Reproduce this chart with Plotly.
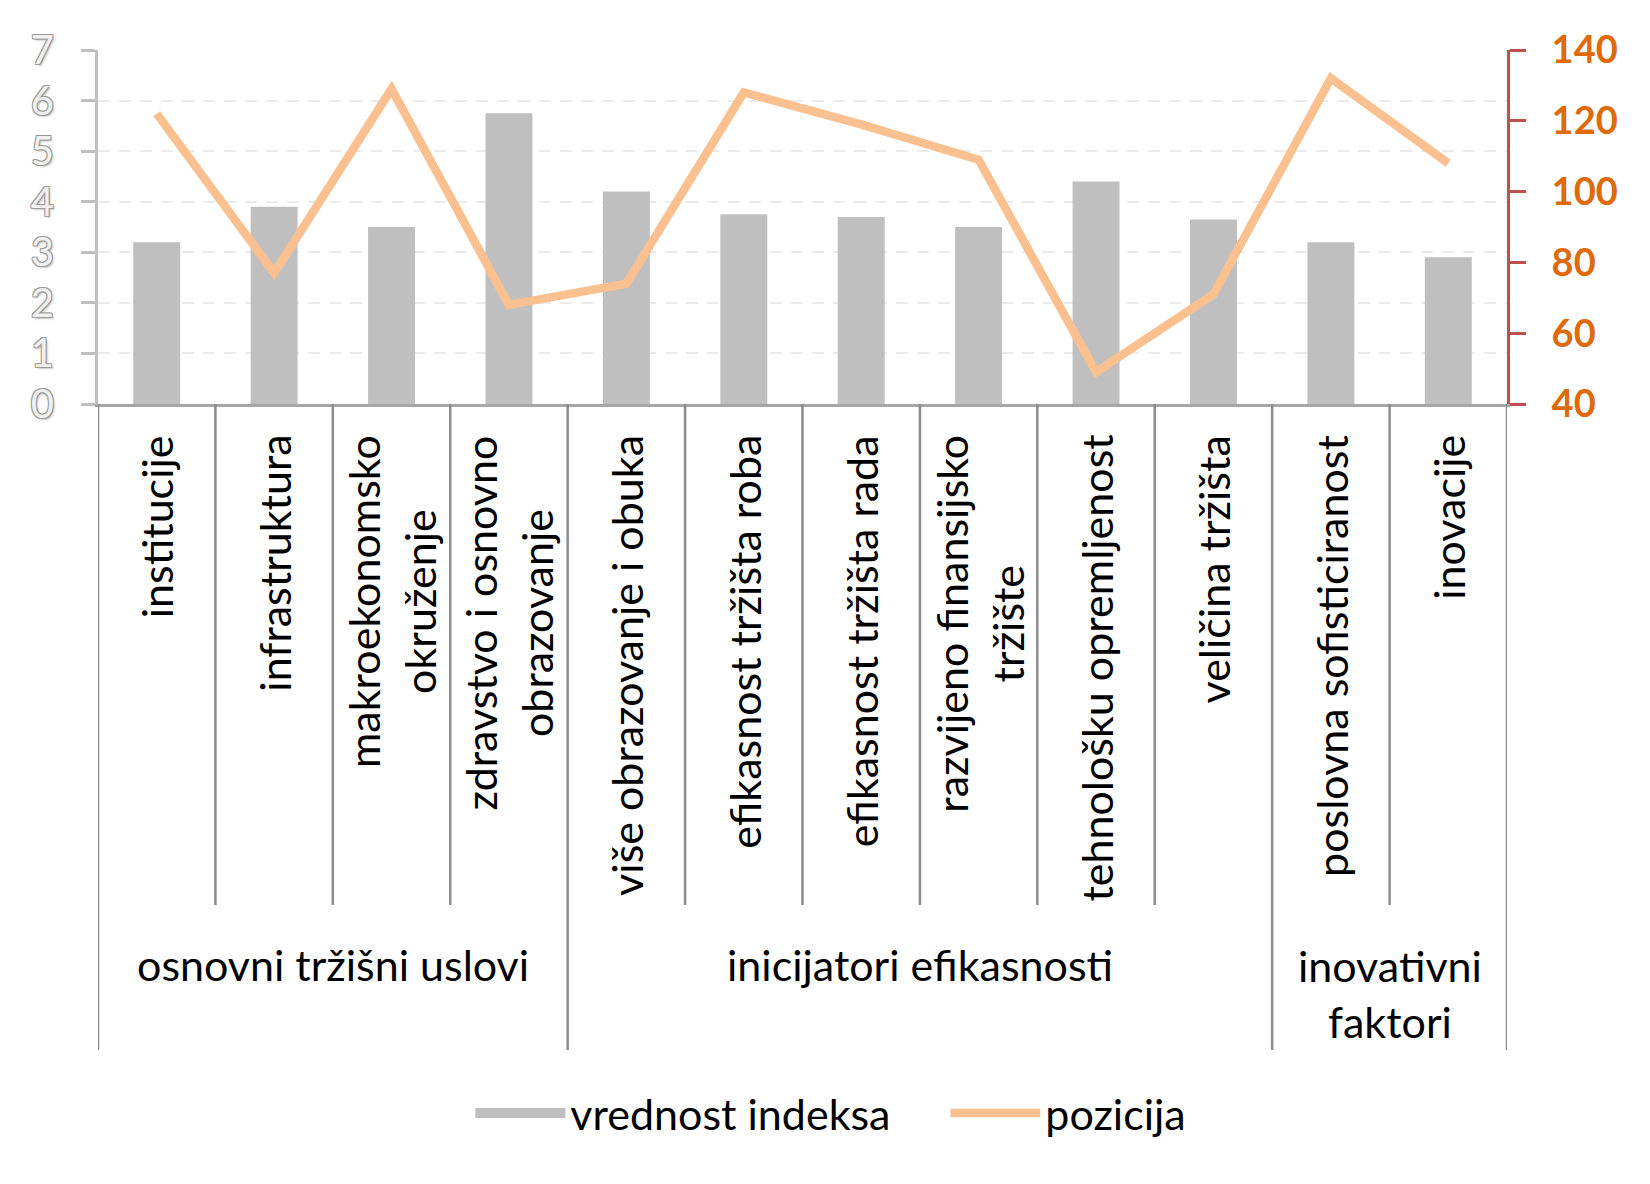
import plotly.graph_objects as go

categories = ["institucije", "infrastruktura", "makroekonomsko<br>okruženje",
              "zdravstvo i osnovno<br>obrazovanje", "više obrazovanje i obuka",
              "efikasnost tržišta roba", "efikasnost tržišta rada",
              "razvijeno finansijsko<br>tržište", "tehnološku opremljenost",
              "veličina tržišta", "poslovna sofisticiranost", "inovacije"]
keys = [f"c{i}" for i in range(len(categories))]
groups = ["osnovni tržišni uslovi", "inicijatori efikasnosti", "inovativni<br>faktori"]
group_sizes = [4, 6, 2]
index_values = [3.2, 3.9, 3.5, 5.75, 4.2, 3.75, 3.7, 3.5, 4.4, 3.65, 3.2, 2.9]
position_values = [122, 77, 129, 68, 74, 128, 119, 109, 49, 71, 132, 108]
left_ticks = [0, 1, 2, 3, 4, 5, 6, 7]
right_ticks = [40, 60, 80, 100, 120, 140]

# page is offset by the 8px body margin
W, H = 1642, 1176
L, R, T, B = 89.5, 143, 42, 780
ph = H - T - B
pw = W - L - R
PLOT_BOTTOM_PAGE = 404
PLOT_LEFT_PAGE = 97.5


def py(ypx):
    return (PLOT_BOTTOM_PAGE - ypx) / ph


def px(xpx):
    return (xpx - PLOT_LEFT_PAGE) / pw


FONT = "Lato"
LAB = 43
BAR_COLOR = "#BFBFBF"

fig = go.Figure()
fig.add_trace(go.Bar(x=keys, y=index_values, name="vrednost indeksa",
                     marker=dict(color=BAR_COLOR, line=dict(width=0)),
                     width=0.4, yaxis="y", legendgroup="idx", showlegend=False))
# legend entry for the bars (wide swatch like the original)
fig.add_trace(go.Scatter(x=[None], y=[None], name="vrednost indeksa", mode="lines",
                         line=dict(color=BAR_COLOR, width=24), yaxis="y",
                         legendgroup="idx", showlegend=True, hoverinfo="skip"))
fig.add_trace(go.Scatter(x=keys, y=position_values, name="pozicija", mode="lines",
                         line=dict(color="#FAC090", width=8.5), yaxis="y2"))

annotations = []
for k, lab in zip(keys, categories):
    annotations.append(dict(x=k, xref="x", y=py(433), yref="paper", text=lab,
                            textangle=-90, showarrow=False, yanchor="top",
                            xanchor="center", align="center",
                            font=dict(family=FONT, size=LAB, color="black")))

shapes = []
start = 0
for g, n in zip(groups, group_sizes):
    center = start + (n - 1) / 2
    annotations.append(dict(x=center, xref="x", y=py(993 if "<br>" in g else 965),
                            yref="paper", text=g, showarrow=False,
                            yanchor="middle", xanchor="center", align="center",
                            font=dict(family=FONT, size=LAB, color="black")))
    start += n

bounds = [0]
for n in group_sizes:
    bounds.append(bounds[-1] + n)
for i in range(len(categories) + 1):
    x = i - 0.5
    ybot = py(1050) if i in bounds else py(905)
    shapes.append(dict(type="line", xref="x", yref="paper", x0=x, x1=x,
                       y0=0, y1=ybot, line=dict(color="#8C8C8C", width=2.5)))

fig.update_layout(
    width=W, height=H,
    margin=dict(l=L, r=R, t=T, b=B, pad=0),
    plot_bgcolor="white", paper_bgcolor="white",
    font=dict(family=FONT, size=LAB, color="black"),
    xaxis=dict(type="category", range=[-0.5, 11.5], showticklabels=False,
               showline=True, linecolor="#A6A6A6", linewidth=3, ticks="",
               showgrid=False, zeroline=False, fixedrange=True),
    yaxis=dict(range=[0, 7], tickvals=left_ticks, showline=True,
               linecolor="#BFBFBF", linewidth=3, ticks="outside", ticklen=14,
               tickwidth=3, tickcolor="#BFBFBF", showgrid=True,
               gridcolor="#EBEBEB", gridwidth=2, griddash="12px,9px",
               zeroline=False, ticklabelstandoff=19,
               tickfont=dict(family=FONT, size=40, color="#F0F0F0",
                             shadow="1px 1px 0 #9A9A9A, -1px -1px 0 #9A9A9A, 1px -1px 0 #9A9A9A, -1px 1px 0 #9A9A9A, 2px 2px 2px #C8C8C8")),
    yaxis2=dict(range=[40, 140], tickvals=right_ticks, overlaying="y", side="right",
                showline=True, linecolor="#C0504D", linewidth=3, ticks="outside",
                ticklen=16, tickwidth=3, tickcolor="#C0504D", showgrid=False,
                zeroline=False, ticklabelstandoff=18,
                tickfont=dict(family=FONT, size=38, color="#DE6A0C", weight="bold")),
    legend=dict(orientation="h", x=px(470), xanchor="left",
                yref="container", y=1 - (1113 - 8) / H, yanchor="middle",
                font=dict(family=FONT, size=LAB, color="black"),
                itemwidth=90, entrywidth=370, bgcolor="rgba(0,0,0,0)",
                traceorder="normal"),
    showlegend=True,
    annotations=annotations,
    shapes=shapes,
)

fig.write_html("out.html")
